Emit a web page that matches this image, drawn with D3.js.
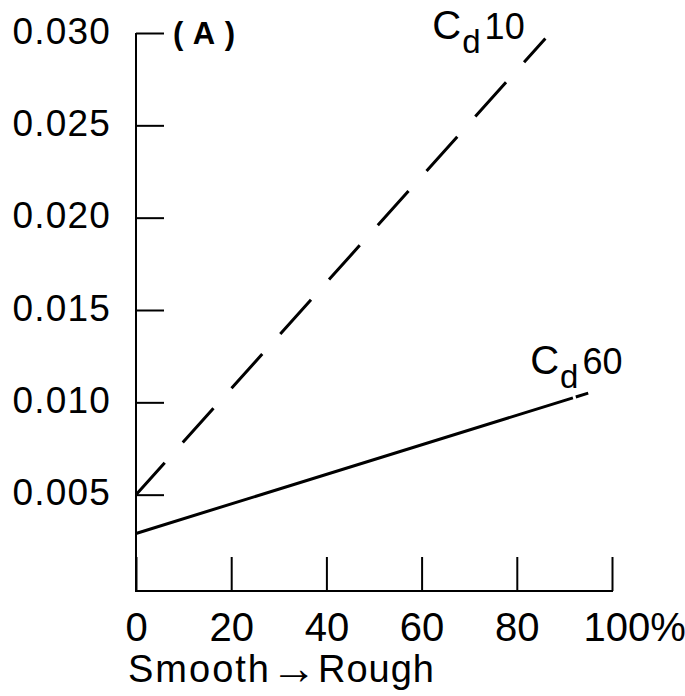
<!DOCTYPE html>
<html>
<head>
<meta charset="utf-8">
<script src="https://cdn.jsdelivr.net/npm/d3@7"></script>
<style>
  body { margin: 0; background: #fff; }
  text { font-family: "Liberation Sans", Arial, sans-serif; fill: #000; }
</style>
</head>
<body>
<div id="chart"></div>
<script>
// roughness in percent, drag coefficients
var roughness = [0, 20, 40, 60, 80, 100];
var cdTicks = [0.005, 0.010, 0.015, 0.020, 0.025, 0.030];
var cd10 = [[0, 0.0050], [86, 0.0297]];
var cd60 = [[0, 0.0029], [95, 0.0105]];

var width = 685, height = 696;
var axisY = 591;

var svg = d3.select("#chart").append("svg")
    .attr("width", width)
    .attr("height", height);

var x = d3.scaleLinear().domain([0, 100]).range([136, 612]);
var y = d3.scaleLinear().domain([0, 0.030]).range([587, 33]);

// y axis, ticks pointing into the plot
var yAxis = svg.append("g")
    .attr("transform", "translate(" + x(0) + ",0)")
    .call(d3.axisLeft(y)
        .tickValues(cdTicks)
        .tickFormat(d3.format(".3f"))
        .tickSizeInner(-28)
        .tickSizeOuter(0)
        .tickPadding(25));
yAxis.select(".domain").remove();
yAxis.selectAll(".tick line").attr("stroke", "#000").attr("stroke-width", 2);
yAxis.selectAll(".tick text")
    .attr("font-family", "Liberation Sans")
    .attr("font-size", 37)
    .attr("letter-spacing", "1.2px")
    .attr("dy", "0.27em");

// x axis, ticks pointing up
var xAxis = svg.append("g")
    .attr("transform", "translate(0," + axisY + ")")
    .call(d3.axisBottom(x)
        .tickValues(roughness)
        .tickFormat(function(d) { return d === 100 ? "100%" : d; })
        .tickSizeInner(-34)
        .tickSizeOuter(0)
        .tickPadding(22));
xAxis.select(".domain").remove();
xAxis.selectAll(".tick line").attr("stroke", "#000").attr("stroke-width", 2);
xAxis.selectAll(".tick text")
    .attr("font-family", "Liberation Sans")
    .attr("font-size", 40);
xAxis.selectAll(".tick text")
    .filter(function(d) { return d === 100; })
    .attr("text-anchor", "start")
    .attr("dx", -29);

// axis lines
svg.append("line")
    .attr("x1", x(0)).attr("x2", x(0))
    .attr("y1", y(0.030)).attr("y2", axisY + 1)
    .attr("stroke", "#000").attr("stroke-width", 2);
svg.append("line")
    .attr("x1", x(0) - 1).attr("x2", x(100) + 1)
    .attr("y1", axisY).attr("y2", axisY)
    .attr("stroke", "#000").attr("stroke-width", 2);

var line = d3.line()
    .x(function(d) { return x(d[0]); })
    .y(function(d) { return y(d[1]); });

// Cd 10 - dashed
svg.append("path")
    .datum(cd10)
    .attr("d", line)
    .attr("fill", "none")
    .attr("stroke", "#000")
    .attr("stroke-width", 3)
    .attr("stroke-dasharray", "46,27")
    .attr("stroke-dashoffset", 3);

// Cd 60 - solid, small break near its end
var p60 = svg.append("path")
    .datum(cd60)
    .attr("d", line)
    .attr("fill", "none")
    .attr("stroke", "#000")
    .attr("stroke-width", 3);
var len = p60.node().getTotalLength();
p60.attr("stroke-dasharray", (len - 16) + ",3,13");

// curve labels  C_d 10 / C_d 60
function cdLabel(pt, dx, dy, num) {
    var t = svg.append("text")
        .attr("x", x(pt[0]) + dx)
        .attr("y", y(pt[1]) + dy)
        .attr("font-size", 40);
    t.append("tspan").text("C");
    t.append("tspan").attr("font-size", 33).attr("dy", 14).attr("dx", 1).text("d");
    t.append("tspan").attr("font-size", 36).attr("dy", -14).attr("dx", 4).text(num);
}
cdLabel(cd10[1], -113, 0, "10");
cdLabel(cd60[1], -58, -19, "60");

// panel label
svg.append("text")
    .attr("x", 173)
    .attr("y", 44)
    .attr("font-size", 31)
    .attr("font-weight", "bold")
    .attr("textLength", 62)
    .attr("lengthAdjust", "spacing")
    .text("(A)");

// x axis title
var title = svg.append("text")
    .attr("x", 128)
    .attr("y", 682)
    .attr("font-size", 38);
title.append("tspan").attr("letter-spacing", "2px").text("Smooth");
title.append("tspan").attr("font-size", 46).attr("dy", 2).attr("dx", 0).text("→");
title.append("tspan").attr("dy", -2).attr("dx", 1).attr("letter-spacing", "1px").text("Rough");
</script>
</body>
</html>
